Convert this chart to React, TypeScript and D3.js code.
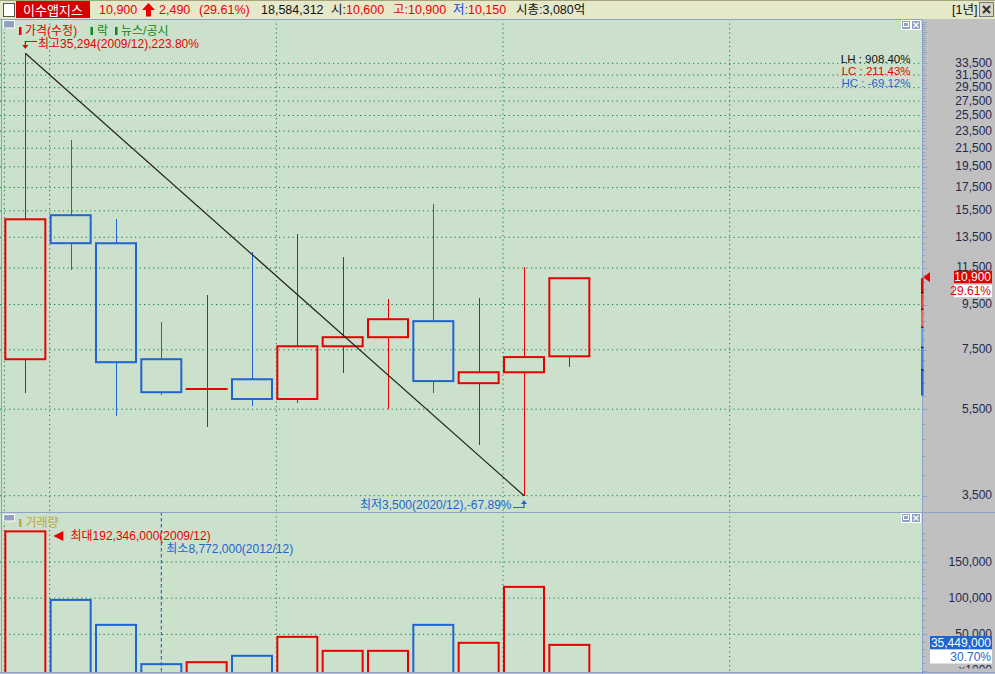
import React from 'react';
import * as d3 from 'd3';

// ---- data ----
const years = ['2009/12', '2010/12', '2011/12', '2012/12', '2013/12', '2014/12', '2015/12', '2016/12', '2017/12', '2018/12', '2019/12', '2020/12', '2021/12'];
const opens = [7140, 15150, 13085, 7140, 6110, 6430, 5800, 7640, 8010, 8710, 6300, 6670, 7250];
const highs = [35294, 22450, 14830, 8660, 9970, 12500, 13740, 12180, 9780, 16070, 9830, 11540, 10900];
const lows = [5970, 11400, 5320, 5910, 5000, 5600, 5670, 6660, 5500, 5970, 4570, 3500, 6870];
const closes = [14830, 13090, 7030, 6010, 6110, 5800, 7640, 8010, 8800, 6370, 6670, 7220, 10900];
const volumes = [192346, 97600, 63100, 8772, 11500, 20300, 46500, 27200, 27200, 63100, 38300, 115600, 35449]; // x1000
const priceTicks = [3500, 5500, 7500, 9500, 11500, 13500, 15500, 17500, 19500, 21500, 23500, 25500, 27500, 29500, 31500, 33500];
const volumeTicks = [50000, 100000, 150000];
const gridSlots = [0, 1, 6, 11, 16];
const profileLevels = [10900, 10110, 9270, 8440, 7600, 6755, 5906];
const profileColors = ['#e00000', '#e83a3a', '#e86262', '#6c9ee2', '#4482dc', '#2262cc'];
const stockName = '이수앱지스';
const dayChange = 2490;
const dayChangePct = '29.61%';
const dayVolume = 18584312;
const dayOpen = 10600;
const dayHigh = 10900;
const dayLow = 10150;
const marketCap = '3,080억';
const volumePct = '30.70%';

export default function App() {
  const W = 995, H = 674;
  const plotR = 922;
  const pTop = 19, pBot = 512, vTop = 512, vBot = 672;
  const x = d3.scaleLinear().domain([0, years.length - 1]).range([25.33, 569.33]);
  const bw = 42;
  const yP = d3.scaleLog().domain([3500, 33500]).range([495.7, 63.3]);
  const yV = d3.scaleLinear().domain([0, 150000]).range([670.5, 562]);
  const red = '#e80000', blue = '#1e64d2';
  const grid = '#0a7a3c';
  const navy = '#1e2852';
  const border = '#8ca2c8';
  const font = "'Liberation Sans', 'Noto Sans CJK KR', sans-serif";
  const fmt = d3.format(',');
  const last = closes[closes.length - 1];
  const hiI = d3.maxIndex(highs), loI = d3.minIndex(lows);
  const hi = highs[hiI], lo = lows[loI];
  const pct = (a: number, b: number) => ((a / b - 1) * 100).toFixed(2) + '%';
  const vMaxI = d3.maxIndex(volumes), vMinI = d3.minIndex(volumes);
  const minorP = d3.range(3500, 42001, 400).filter(v => yP(v) >= pTop + 2);
  const minorV = d3.range(0, 190001, 10000);
  const isUp = (i: number) => closes[i] >= opens[i];
  const sw = 2;

  const dotted = '1.2,3.3';

  return (
    <svg width={W} height={H} style={{ position: 'fixed', left: 0, top: 0, fontFamily: font }}>
      <defs>
        <clipPath id="pclip"><rect x={0} y={pTop} width={plotR} height={pBot - pTop} /></clipPath>
        <clipPath id="vclip"><rect x={0} y={vTop} width={plotR} height={vBot - vTop} /></clipPath>
        <clipPath id="uclip"><rect x={923} y={662} width={72} height={6.5} /></clipPath>
      </defs>
      {/* backgrounds */}
      <rect x={0} y={0} width={W} height={H} fill="#c0c0c0" />
      <rect x={0} y={0} width={W} height={pTop} fill="#e6e8ca" />
      <line x1={0} x2={W} y1={0.5} y2={0.5} stroke="#a4a47c" />
      <rect x={0} y={pTop} width={plotR} height={pBot - pTop} fill="#cce1cb" />
      <rect x={0} y={vTop} width={plotR} height={vBot - vTop} fill="#cce1cb" />

      {/* ---- header ---- */}
      <rect x={3.5} y={3.5} width={11} height={13} fill="#fff" stroke="#555" />
      <rect x={16} y={1} width={74} height={17} fill="#d40000" />
      <text x={53} y={10} fill="#fff" fontSize={13} textAnchor="middle" dominantBaseline="central">{stockName}</text>
      <text x={99} y={10} fill={red} fontSize={12.5} dominantBaseline="central">{fmt(last)}</text>
      <path d="M148.5,3 L155,10 L151,10 L151,16.5 L146,16.5 L146,10 L142,10 Z" fill={red} />
      <text x={159} y={10} fill={red} fontSize={12.5} dominantBaseline="central">{fmt(dayChange)}</text>
      <text x={199} y={10} fill={red} fontSize={12.5} dominantBaseline="central">({dayChangePct})</text>
      <text x={261} y={10} fill="#111" fontSize={12.5} dominantBaseline="central">{fmt(dayVolume)}</text>
      <text x={331} y={10} fontSize={12.5} dominantBaseline="central"><tspan fill="#111">시:</tspan><tspan fill={red}>{fmt(dayOpen)}</tspan></text>
      <text x={393} y={10} fontSize={12.5} dominantBaseline="central"><tspan fill={red}>고:</tspan><tspan fill={red}>{fmt(dayHigh)}</tspan></text>
      <text x={453} y={10} fontSize={12.5} dominantBaseline="central"><tspan fill="#2040e0">저:</tspan><tspan fill={red}>{fmt(dayLow)}</tspan></text>
      <text x={516} y={10} fill="#111" fontSize={12.5} dominantBaseline="central">시총:{marketCap}</text>
      <text x={952} y={10} fill="#111" fontSize={12.5} dominantBaseline="central">[1년]</text>
      <rect x={979.5} y={2.5} width={14} height={14} fill="#d6d3c8" stroke="#777" />
      <path d="M983,6 L990,13 M990,6 L983,13" stroke="#333" strokeWidth={2} />

      {/* ---- price panel ---- */}
      <g clipPath="url(#pclip)">
        {priceTicks.map(v => (
          <line key={'pg' + v} x1={0} x2={plotR} y1={yP(v)} y2={yP(v)} stroke={grid} strokeDasharray={dotted} />
        ))}
        {gridSlots.map(i => (
          <line key={'pv' + i} x1={x(i) - bw / 2} x2={x(i) - bw / 2} y1={pTop} y2={pBot} stroke={grid} strokeDasharray={dotted} />
        ))}
        {years.map((yr, i) => {
          const c = isUp(i) ? red : blue;
          const top = yP(Math.max(opens[i], closes[i]));
          const bot = yP(Math.min(opens[i], closes[i]));
          const cx = Math.round(x(i)) + 0.5;
          return (
            <g key={yr}>
              <line x1={cx} x2={cx} y1={yP(highs[i])} y2={top} stroke={c} strokeWidth={1.3} shapeRendering="crispEdges" />
              <line x1={cx} x2={cx} y1={bot} y2={yP(lows[i])} stroke={c} strokeWidth={1.3} shapeRendering="crispEdges" />
              {bot - top < 1 ? (
                <line x1={x(i) - bw / 2} x2={x(i) + bw / 2} y1={top} y2={top} stroke={c} strokeWidth={sw} />
              ) : (
                <rect x={x(i) - bw / 2 + sw / 2} y={top} width={bw - sw} height={bot - top} fill="none" stroke={c} strokeWidth={sw} />
              )}
            </g>
          );
        })}
        <line x1={x(hiI)} y1={yP(hi)} x2={x(loI)} y2={yP(lo)} stroke="#222" strokeWidth={1.2} />
      </g>
      {/* price legend */}
      <rect x={3.5} y={20.5} width={11} height={7.5} fill="#90a2c4" stroke="#fff" strokeWidth={1} />
      <rect x={19} y={27} width={2.5} height={8} fill={red} />
      <text x={25} y={31} fill={red} fontSize={12} dominantBaseline="central">가격(수정)</text>
      <rect x={90.5} y={27} width={2.5} height={8} fill="#0a8a1a" />
      <text x={97} y={31} fill="#0a8a1a" fontSize={12} dominantBaseline="central">락</text>
      <rect x={115} y={27} width={2.5} height={8} fill="#0a8a1a" />
      <text x={121} y={31} fill="#0a8a1a" fontSize={12} dominantBaseline="central">뉴스/공시</text>
      {/* high annotation */}
      <path d={`M37,41.5 H${x(hiI)} V46`} fill="none" stroke={red} strokeWidth={1.2} />
      <path d={`M${x(hiI) - 3},45 L${x(hiI) + 3},45 L${x(hiI)},49 Z`} fill={red} />
      <text x={38} y={44} fill={red} fontSize={12} dominantBaseline="central">최고{fmt(hi)}({years[hiI]}),{pct(hi, last)}</text>
      {/* low annotation */}
      <text x={x(loI) - 12.5} y={504.5} fill={blue} fontSize={12} textAnchor="end" dominantBaseline="central">최저{fmt(lo)}({years[loI]}),{pct(lo, last)}</text>
      <path d={`M${x(loI) - 11},507.5 H${x(loI)} V503`} fill="none" stroke={blue} strokeWidth={1.2} />
      <path d={`M${x(loI) - 3},504 L${x(loI) + 3},504 L${x(loI)},500 Z`} fill={blue} />
      {/* LH LC HC */}
      <text x={910.5} y={58.5} fill="#111" fontSize={11.5} textAnchor="end" dominantBaseline="central">LH : {pct(hi, lo)}</text>
      <text x={910.5} y={70.7} fill={red} fontSize={11.5} textAnchor="end" dominantBaseline="central">LC : {pct(last, lo)}</text>
      <text x={910.5} y={82.9} fill={blue} fontSize={11.5} textAnchor="end" dominantBaseline="central">HC : {pct(last, hi)}</text>
      {/* panel icons */}
      {[pTop + 1.5, vTop + 1.5].map(yy => (
        <g key={'ic' + yy}>
          <rect x={901.5} y={yy} width={9} height={9} fill="#90a2c4" stroke="#fff" />
          <rect x={903.5} y={yy + 2} width={5} height={4} fill="none" stroke="#fff" />
          <rect x={911.5} y={yy} width={9} height={9} fill="#90a2c4" stroke="#fff" />
          <path d={`M913.5,${yy + 2} L918.5,${yy + 7} M918.5,${yy + 2} L913.5,${yy + 7}`} stroke="#fff" strokeWidth={1.3} />
        </g>
      ))}

      {/* ---- volume panel ---- */}
      <g clipPath="url(#vclip)">
        {volumeTicks.map(v => (
          <line key={'vg' + v} x1={0} x2={plotR} y1={yV(v)} y2={yV(v)} stroke={grid} strokeDasharray={dotted} />
        ))}
        {gridSlots.map(i => (
          <line key={'vv' + i} x1={x(i) - bw / 2} x2={x(i) - bw / 2} y1={vTop} y2={vBot} stroke={grid} strokeDasharray={dotted} />
        ))}
        <line x1={x(vMinI)} x2={x(vMinI)} y1={vTop} y2={vBot} stroke={blue} strokeDasharray="3.5,2.5" strokeWidth={1.1} />
        {volumes.map((v, i) => (
          <rect key={'vb' + i} x={x(i) - bw / 2 + sw / 2} y={yV(v)} width={bw - sw} height={vBot + 2 - yV(v)}
            fill="none" stroke={isUp(i) ? red : blue} strokeWidth={sw} />
        ))}
      </g>
      <rect x={3.5} y={514.5} width={11} height={6.5} fill="#90a2c4" stroke="#fff" strokeWidth={1} />
      <rect x={19} y={519} width={2.5} height={8} fill="#c0aa3c" />
      <text x={25.5} y={522.5} fill="#c0aa3c" fontSize={12} dominantBaseline="central">거래량</text>
      <path d={`M${x(vMaxI) + bw / 2 + 7},536 L${x(vMaxI) + bw / 2 + 17},531 L${x(vMaxI) + bw / 2 + 17},541 Z`} fill={red} />
      <text x={70.5} y={536} fill={red} fontSize={12} dominantBaseline="central">최대{fmt(volumes[vMaxI] * 1000)}({years[vMaxI]})</text>
      <text x={x(vMinI) + 5} y={548.5} fill={blue} fontSize={12} dominantBaseline="central">최소{fmt(volumes[vMinI] * 1000)}({years[vMinI]})</text>

      {/* ---- borders ---- */}
      <line x1={0} x2={plotR} y1={pTop + 0.5} y2={pTop + 0.5} stroke={border} />
      <line x1={0} x2={W} y1={vTop + 0.5} y2={vTop + 0.5} stroke={border} />
      <line x1={0} x2={W} y1={vBot + 0.5} y2={vBot + 0.5} stroke={border} />
      <line x1={1.5} x2={1.5} y1={pTop} y2={vBot} stroke={border} />
      <line x1={plotR + 0.5} x2={plotR + 0.5} y1={pTop} y2={H} stroke={border} />

      {/* ---- price axis ---- */}
      {minorP.map(v => {
        const major = (v - 3500) % 2000 === 0;
        return <line key={'mt' + v} x1={plotR + 1} x2={plotR + (major ? 5 : 3.5)} y1={Math.round(yP(v)) + 0.5} y2={Math.round(yP(v)) + 0.5} stroke={border} />;
      })}
      {priceTicks.map(v => (
        <text key={'pl' + v} x={992} y={yP(v) - 0.5} fill={navy} fontSize={12} textAnchor="end" dominantBaseline="central">{fmt(v)}</text>
      ))}
      {/* volume profile strip */}
      {profileColors.map((c, i) => (
        <rect key={'pf' + i} x={plotR - 1} y={yP(profileLevels[i])} width={2.5} height={yP(profileLevels[i + 1]) - yP(profileLevels[i])} fill={c} />
      ))}
      {profileLevels.slice(1, -1).map(v => (
        <line key={'pfl' + v} x1={plotR - 1} x2={plotR + 1.5} y1={yP(v)} y2={yP(v)} stroke="#000" />
      ))}
      <path d={`M${plotR + 1},${yP(last) - 1} L${plotR + 8},${yP(last) - 6} L${plotR + 8},${yP(last) + 4} Z`} fill={red} />
      <rect x={954} y={yP(last) - 7.5} width={38} height={12.5} fill="#e00000" />
      <text x={991} y={yP(last) - 1.2} fill="#fff" fontSize={12} textAnchor="end" dominantBaseline="central">{fmt(last)}</text>
      <rect x={954} y={yP(last) + 6.5} width={38} height={12.5} fill="#fff" />
      <text x={991} y={yP(last) + 12.8} fill={red} fontSize={12} textAnchor="end" dominantBaseline="central">{dayChangePct}</text>

      {/* ---- volume axis ---- */}
      {minorV.map(v => {
        const major = v % 50000 === 0;
        return <line key={'vt' + v} x1={plotR + 1} x2={plotR + (major ? 5 : 3.5)} y1={Math.round(yV(v)) + 0.5} y2={Math.round(yV(v)) + 0.5} stroke={border} />;
      })}
      {volumeTicks.map(v => (
        <text key={'vl' + v} x={992} y={yV(v)} fill={navy} fontSize={12} textAnchor="end" dominantBaseline="central">{fmt(v)}</text>
      ))}
      <g clipPath="url(#uclip)">
        <text x={992} y={670} fill={navy} fontSize={12} textAnchor="end" dominantBaseline="central">×1000</text>
      </g>
      <rect x={930} y={636} width={62} height={13.5} fill="#1e64d2" />
      <text x={991} y={642.8} fill="#fff" fontSize={12} textAnchor="end" dominantBaseline="central">{fmt(volumes[volumes.length - 1] * 1000)}</text>
      <rect x={930} y={649.5} width={62} height={14} fill="#fff" />
      <text x={991} y={656.5} fill={blue} fontSize={12} textAnchor="end" dominantBaseline="central">{volumePct}</text>
    </svg>
  );
}
